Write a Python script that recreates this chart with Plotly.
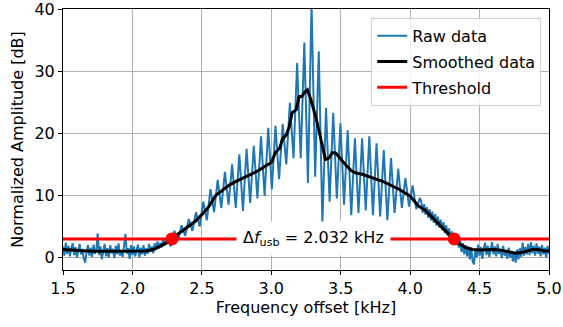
import numpy as np
import plotly.graph_objects as go

# ---------------- data ----------------
# Raw spectrum, segment A: 1.50 .. 2.24 kHz, 0.01 kHz bins
raw_a_start, raw_a_step = 1.50, 0.01
raw_a_y = [1.8, 0.3, 2.4, 0.6, 1.9, 0.2, 1.5, 2.3, 0.4, 1.7,
           0.0, 1.2, 2.2, 0.5, 1.4, -0.2, -0.8, 1.0, 2.0, 0.3,
           1.6, 0.1, 2.1, 0.6, 1.3, 3.9, 0.4, 1.8, -0.3, 1.1,
           2.2, 0.2, 1.5, 0.0, 2.0, 0.7, 1.4, -0.1, 1.9, 0.5,
           2.3, 0.3, 1.2, 0.1, 1.7, 3.8, 0.6, 1.5, -0.2, 2.0,
           0.4, 1.8, 0.2, 1.3, 2.1, 0.0, 1.6, 0.5, 2.0, 0.3,
           1.5, 0.6, 2.2, 0.9, 1.8, 0.7, 2.3, 1.2, 2.6, 1.4,
           2.4, 1.6, 2.9, 1.9, 3.1]
# Raw spectrum, segment B: 2.25 .. 4.07 kHz, 0.026 kHz bins (peaks / troughs)
raw_b_start, raw_b_step = 2.25, 0.026
raw_b_y = [3.0, 1.8, 4.3, 2.8, 5.2, 3.5, 6.2, 4.3, 7.3, 5.0,
           9.0, 6.0, 11.0, 7.3, 12.5, 8.0, 13.8, 8.5, 15.0, 8.0,
           16.6, 7.5, 17.5, 8.8, 18.0, 9.5, 19.5, 9.9, 20.9, 11.0,
           21.2, 12.6, 21.5, 15.0, 24.9, 16.0, 31.3, 16.0, 34.6, 12.0,
           41.0, 13.0, 33.2, 5.6, 24.1, 9.0, 23.3, 9.5, 21.6, 8.5,
           20.5, 6.8, 19.2, 7.2, 19.2, 7.6, 19.5, 6.8, 18.4, 6.6,
           17.3, 6.0, 16.0, 7.2, 14.3, 8.0, 12.8, 8.2, 11.6, 7.8,
           9.6]
# Raw spectrum, segment C: 4.08 .. 5.00 kHz, 0.01 kHz bins
raw_c_start, raw_c_step = 4.08, 0.01
raw_c_y = [9.0, 7.2, 8.6, 6.9, 8.1, 6.4, 7.8, 6.0, 7.4, 5.6,
           7.0, 5.1, 6.6, 4.8, 6.1, 4.4, 5.7, 3.9, 5.2, 3.5,
           4.7, 3.0, 4.2, 2.6, 3.6, 2.0, 3.0, 1.6, 2.7, 0.9,
           2.3, 0.5, 2.0, 0.2, 1.8, -0.3, 1.6, -0.6, -1.1, 1.4,
           0.0, 2.1, 0.3, 1.7, -0.2, 1.5, 2.4, 0.4, 1.9, 0.1,
           1.6, 2.5, 0.5, 1.8, 0.2, 2.2, 0.6, 1.4, -0.1, 1.9,
           0.3, 1.2, -0.2, 1.6, 0.0, 1.1, -0.6, 0.9, -0.8, 1.3,
           -0.3, 1.5, 0.1, 2.4, 0.3, 1.7, 0.5, 2.2, 0.4, 2.5,
           0.7, 1.9, 0.3, 2.3, 0.6, 1.8, 0.2, 2.0, 0.5, 1.6,
           0.0, 1.9, 0.6]

smooth_x = [1.50, 1.55, 1.60, 1.65, 1.70, 1.75, 1.80, 1.85, 1.90, 1.95,
            2.00, 2.05, 2.10, 2.15, 2.20, 2.25, 2.30, 2.35, 2.40, 2.45,
            2.50, 2.55, 2.60, 2.65, 2.70, 2.75, 2.80, 2.85, 2.90, 2.95,
            3.00, 3.03, 3.06, 3.08, 3.11, 3.13, 3.15, 3.18, 3.20, 3.22,
            3.24, 3.26, 3.285, 3.32, 3.36, 3.39, 3.415, 3.44, 3.465, 3.50,
            3.54, 3.575, 3.61, 3.655, 3.69, 3.73, 3.77, 3.80, 3.85, 3.92,
            4.00, 4.06, 4.11, 4.14, 4.21, 4.25, 4.31, 4.35, 4.40, 4.45,
            4.50, 4.55, 4.61, 4.65, 4.70, 4.76, 4.80, 4.85, 4.88, 4.92,
            4.96, 5.00]
smooth_y = [1.3, 1.2, 1.1, 1.0, 1.0, 1.0, 1.0, 1.05, 1.1, 1.1,
            1.1, 1.05, 1.05, 1.3, 1.8, 2.4, 3.3, 4.1, 4.9, 5.8,
            6.9, 8.2, 10.0, 10.9, 11.7, 12.3, 12.8, 13.3, 13.9, 14.6,
            15.3, 16.9, 17.6, 19.0, 19.8, 21.1, 23.3, 23.8, 25.9, 25.9,
            26.6, 27.0, 25.4, 22.7, 19.0, 15.8, 16.0, 16.9, 16.8, 15.8,
            14.8, 14.0, 13.6, 13.4, 13.1, 12.8, 12.5, 12.3, 11.8, 11.0,
            9.9, 8.3, 7.6, 6.9, 5.4, 4.5, 3.05, 2.3, 1.6, 1.3,
            1.2, 1.25, 1.3, 1.2, 1.0, 0.7, 0.8, 1.1, 1.3, 1.3,
            1.1, 1.06]

threshold_db = 3.0
x_limits = [1.5, 5.0]
crossing_x = [2.285, 4.317]
delta_f_khz = 2.032

x_ticks = [1.5, 2.0, 2.5, 3.0, 3.5, 4.0, 4.5, 5.0]
x_ticklabels = ["1.5", "2.0", "2.5", "3.0", "3.5", "4.0", "4.5", "5.0"]
y_ticks = [0, 10, 20, 30, 40]

# ---------------- build ----------------
def grid(start, step, n):
    return list(np.round(start + step * np.arange(n), 4))

raw_x = (grid(raw_a_start, raw_a_step, len(raw_a_y))
         + grid(raw_b_start, raw_b_step, len(raw_b_y))
         + grid(raw_c_start, raw_c_step, len(raw_c_y)))
raw_y = raw_a_y + raw_b_y + raw_c_y

FONT = "DejaVu Sans"
FS = 16
fig = go.Figure()
fig.add_trace(go.Scatter(x=raw_x, y=raw_y, mode="lines", name="Raw data",
                         line=dict(color="#1f77b4", width=2), legendgroup="a"))
fig.add_trace(go.Scatter(x=smooth_x, y=smooth_y, mode="lines", name="Smoothed data",
                         line=dict(color="black", width=3), legendgroup="b"))
fig.add_trace(go.Scatter(x=x_limits, y=[threshold_db, threshold_db], mode="lines",
                         name="Threshold", line=dict(color="red", width=3),
                         legendgroup="c"))
fig.add_trace(go.Scatter(x=crossing_x, y=[threshold_db] * len(crossing_x),
                         mode="markers", showlegend=False,
                         marker=dict(color="red", size=13)))

fig.add_annotation(x=sum(crossing_x) / 2, y=threshold_db, xref="x", yref="y",
                   text="Δ<i>f</i><sub>usb</sub> = %.3f kHz" % delta_f_khz,
                   showarrow=False, font=dict(family=FONT, size=FS, color="black"),
                   bgcolor="white", borderpad=6)

axis_common = dict(showline=True, linecolor="black", linewidth=1, mirror=True,
                   ticks="outside", ticklen=4, tickcolor="black", automargin=False,
                   ticklabeloverflow="allow",
                   showgrid=True, gridcolor="#b0b0b0", gridwidth=1, zeroline=False,
                   tickfont=dict(family=FONT, size=FS, color="black"))
fig.update_xaxes(range=x_limits, tickvals=x_ticks, ticktext=x_ticklabels,
                 title=dict(text="Frequency offset [kHz]", standoff=4,
                            font=dict(family=FONT, size=FS, color="black")),
                 **axis_common)
fig.update_yaxes(range=[-2, 40], tickvals=y_ticks,
                 title=dict(text="Normalized Amplitude [dB]", standoff=6,
                            font=dict(family=FONT, size=FS, color="black")),
                 **axis_common)

fig.update_layout(
    width=563, height=327,
    margin=dict(l=63, r=14, t=9, b=57),
    plot_bgcolor="white", paper_bgcolor="white",
    font=dict(family=FONT, size=FS, color="black"),
    legend=dict(x=0.984, y=0.966, xanchor="right", yanchor="top",
                bgcolor="rgba(255,255,255,0.85)", bordercolor="#d0d0d0",
                borderwidth=1, tracegroupgap=2,
                font=dict(family=FONT, size=FS, color="black")),
)

fig.write_html("out.html")
